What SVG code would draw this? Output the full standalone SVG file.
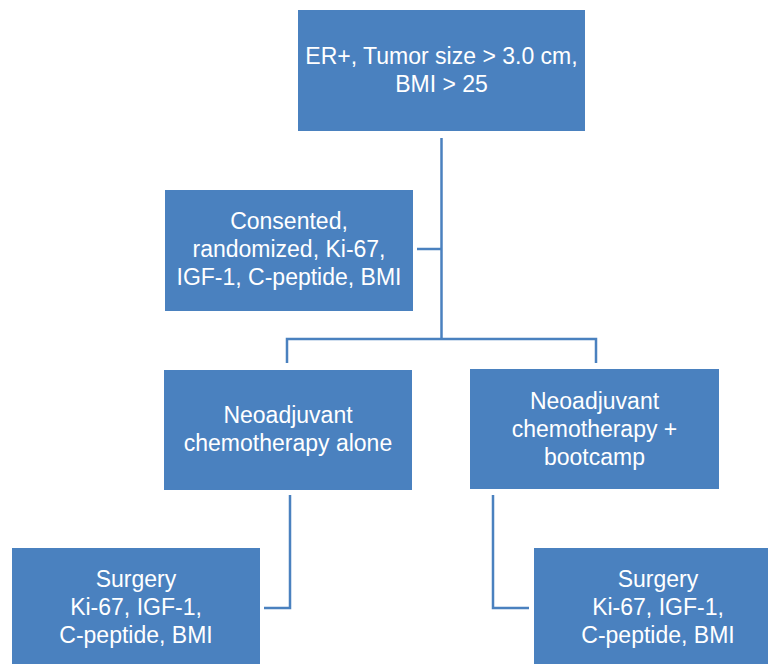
<svg xmlns="http://www.w3.org/2000/svg" width="769" height="664" viewBox="0 0 769 664">
<style>
.box{fill:#4a81bf}
.t{fill:#fff;font-family:"Liberation Sans",Arial,sans-serif;font-size:23px;text-anchor:middle}
.c{fill:none;stroke:#4a81bf;stroke-width:2.5}
</style>
<rect width="769" height="664" fill="#fff"/>
<g id="connectors">
<path class="c" d="M441.5,138 V339"/>
<path class="c" d="M417,249 H441.5"/>
<path class="c" d="M287,363 V339 H596 V363"/>
<path class="c" d="M290,495 V608 H264"/>
<path class="c" d="M493,495 V608 H529"/>
</g>
<g id="n1"><rect class="box" x="298" y="10" width="287" height="121"/>
<text class="t" x="441.5" y="64">ER+, Tumor size &gt; 3.0 cm,</text>
<text class="t" x="441.5" y="92">BMI &gt; 25</text></g>
<g id="n2"><rect class="box" x="165" y="190" width="248" height="121"/>
<text class="t" x="289" y="229">Consented,</text>
<text class="t" x="289" y="257">randomized, Ki-67,</text>
<text class="t" x="289" y="285">IGF-1, C-peptide, BMI</text></g>
<g id="n3"><rect class="box" x="164" y="370" width="248" height="120"/>
<text class="t" x="288" y="423">Neoadjuvant</text>
<text class="t" x="288" y="451">chemotherapy alone</text></g>
<g id="n4"><rect class="box" x="470" y="369" width="249" height="120"/>
<text class="t" x="594.5" y="409">Neoadjuvant</text>
<text class="t" x="594.5" y="437">chemotherapy +</text>
<text class="t" x="594.5" y="465">bootcamp</text></g>
<g id="n5"><rect class="box" x="12" y="548" width="248" height="116"/>
<text class="t" x="136" y="587">Surgery</text>
<text class="t" x="136" y="615">Ki-67, IGF-1,</text>
<text class="t" x="136" y="643">C-peptide, BMI</text></g>
<g id="n6"><rect class="box" x="534" y="548" width="234" height="116"/>
<text class="t" x="658" y="587">Surgery</text>
<text class="t" x="658" y="615">Ki-67, IGF-1,</text>
<text class="t" x="658" y="643">C-peptide, BMI</text></g>
</svg>
